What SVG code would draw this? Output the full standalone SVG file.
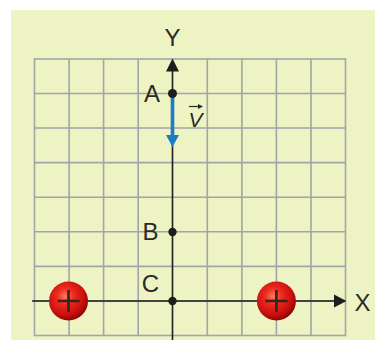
<svg xmlns="http://www.w3.org/2000/svg" width="375" height="340" viewBox="0 0 375 340">
<style>
.grid{stroke:#a3a3aa;stroke-width:1.6;fill:none}
.axis{stroke:#1e1e1e;stroke-width:1.6;fill:none}
.lbl{font-family:"Liberation Sans",Arial,sans-serif;font-size:24px;fill:#2a2a2a}
.dot{fill:#1e1e1e}
.plus{stroke:#3a2222;stroke-width:2.6}
</style>
<defs>
<radialGradient id="ball" cx="0.42" cy="0.38" r="0.62">
<stop offset="0" stop-color="#ff7a5c"/>
<stop offset="0.35" stop-color="#ee2a1c"/>
<stop offset="0.8" stop-color="#c40d0d"/>
<stop offset="1" stop-color="#8c0404"/>
</radialGradient>
</defs>
<rect x="11" y="10" width="364" height="330" fill="#eef3c3"/>
<g id="grid" class="grid">
<rect x="34.5" y="59" width="311" height="276.5"/>
<path d="M69.1 59V335.5M103.6 59V335.5M138.2 59V335.5M207.3 59V335.5M241.9 59V335.5M276.4 59V335.5M311 59V335.5"/>
<path d="M34.5 93.5H345.5M34.5 128H345.5M34.5 162.6H345.5M34.5 197.2H345.5M34.5 231.8H345.5M34.5 266.4H345.5M34.5 301H345.5"/>
</g>
<g id="connectors">
<line class="axis" x1="172.5" y1="340" x2="172.5" y2="70"/>
<polygon points="166,71.5 179,71.5 172.5,58.5" fill="#1e1e1e"/>
<line class="axis" x1="32" y1="301" x2="335" y2="301"/>
<polygon points="334,294.5 334,307.5 346.5,301" fill="#1e1e1e"/>
<line x1="172.5" y1="93.5" x2="172.5" y2="136" stroke="#1d7dc4" stroke-width="3.6"/>
<polygon points="166,135 179,135 172.5,147" fill="#1d7dc4"/>
</g>
<g id="charge-left">
<circle cx="68.5" cy="301" r="19.5" fill="url(#ball)"/>
<path class="plus" d="M57.5 301H79.5M68.5 290V312"/>
</g>
<g id="charge-right">
<circle cx="276.4" cy="301" r="19.5" fill="url(#ball)"/>
<path class="plus" d="M265.4 301H287.4M276.4 290V312"/>
</g>
<g id="A"><circle class="dot" cx="172.5" cy="93.5" r="4.5"/><text class="lbl" x="160" y="101.5" text-anchor="end">A</text></g>
<g id="B"><circle class="dot" cx="172.5" cy="232" r="4.2"/><text class="lbl" x="158.5" y="240" text-anchor="end">B</text></g>
<g id="C"><circle class="dot" cx="172.5" cy="301" r="4.2"/><text class="lbl" x="159" y="291.5" text-anchor="end">C</text></g>
<g id="Y"><text class="lbl" x="172.5" y="46" text-anchor="middle">Y</text></g>
<g id="X"><text class="lbl" x="362.5" y="311" text-anchor="middle">X</text></g>
<g id="V">
<text x="195.5" y="127" text-anchor="middle" font-family="Liberation Sans,Arial,sans-serif" font-size="21" font-style="italic" fill="#2a2a2a">V</text>
<path d="M189 106.5H201" stroke="#2a2a2a" stroke-width="1.2"/>
<polygon points="198,104 203,106.5 198,109" fill="#2a2a2a"/>
</g>
</svg>
